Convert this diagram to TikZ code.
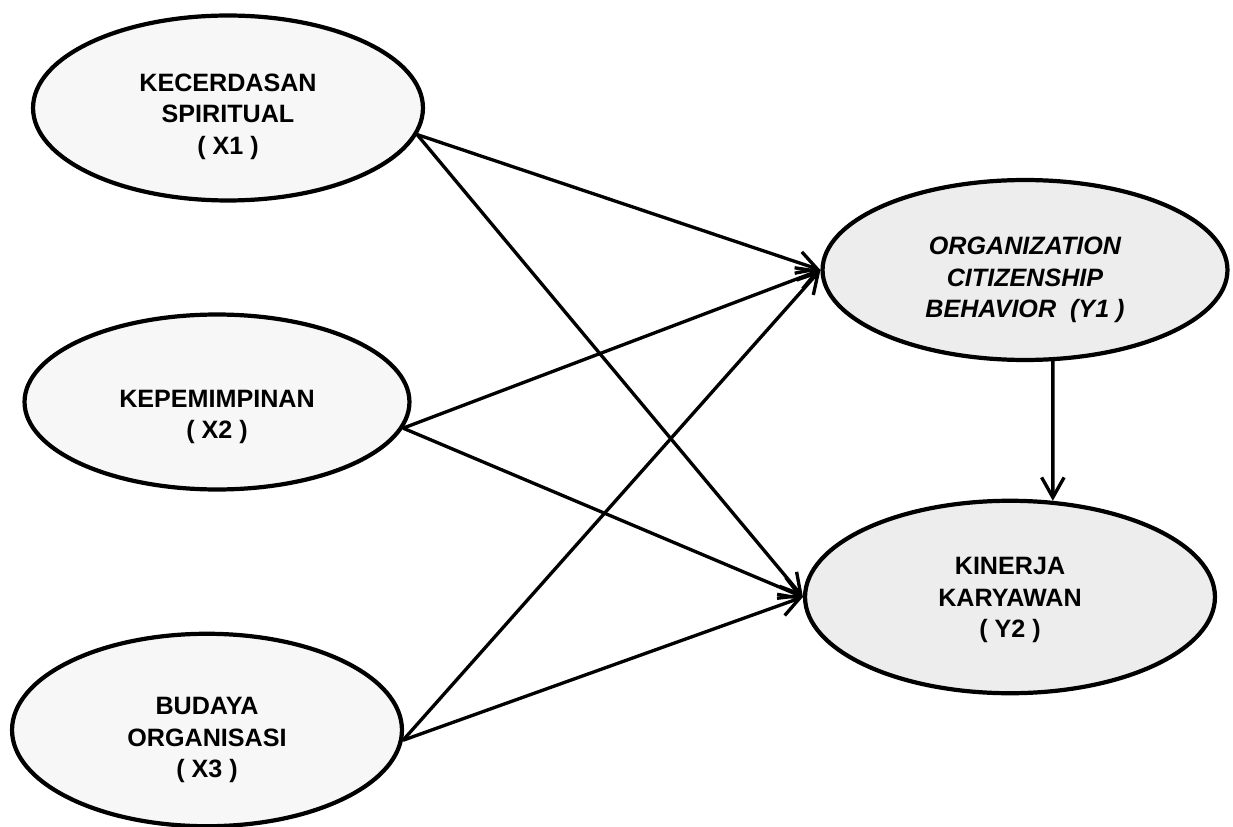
\documentclass[tikz,border=0pt]{standalone}
\usepackage{fontspec}
\setmainfont{Liberation Sans}
\usepackage{tikz}
\usetikzlibrary{arrows.meta, shapes.geometric, calc}

\begin{document}
\begin{tikzpicture}[x=0.02cm, y=-0.02cm,
  every node/.style={font=\fontsize{14.3}{18}\selectfont\bfseries, align=center},
  var/.style={ellipse, draw, line width=2.4pt, fill=gray!6, inner sep=0pt},
  dep/.style={var, fill=gray!14},
  arr/.style={-{Straight Barb[length=4mm, width=4.5mm]}, line width=1.9pt}]
  \useasboundingbox (0,0) rectangle (1233,827);
  \node[var, minimum width=7.8cm, minimum height=3.7cm,
    label={[yshift=-0.17cm]center:KECERDASAN\\SPIRITUAL\\( X1 )}] (X1) at (228,108) {};
  \node[var, minimum width=7.7cm, minimum height=3.5cm,
    label={[yshift=-0.3cm]center:KEPEMIMPINAN\\( X2 )}] (X2) at (217,402) {};
  \node[var, minimum width=7.8cm, minimum height=3.85cm,
    label={[yshift=-0.2cm]center:BUDAYA\\ORGANISASI\\( X3 )}] (X3) at (207,730) {};
  \node[dep, minimum width=8.1cm, minimum height=3.6cm,
    label={[yshift=-0.2cm, font=\fontsize{14.3}{18}\selectfont\bfseries\itshape]center:ORGANIZATION\\CITIZENSHIP\\BEHAVIOR\ \ (Y1 )}] (Y1) at (1025,270) {};
  \node[dep, minimum width=8.2cm, minimum height=3.85cm,
    label={[yshift=-0.06cm]center:KINERJA\\KARYAWAN\\( Y2 )}] (Y2) at (1010,597) {};
  \draw[arr] (X1.-8) -- (Y1.west);
  \draw[arr] (X1.-8) -- (Y2.west);
  \draw[arr] (X2.-8) -- (Y1.west);
  \draw[arr] (X2.-8) -- (Y2.west);
  \draw[arr] (X3.-3) -- (Y1.west);
  \draw[arr] (X3.-3) -- (Y2.west);
  \draw[arr] (Y1.-73) -- (Y2.66);
\end{tikzpicture}
\end{document}
